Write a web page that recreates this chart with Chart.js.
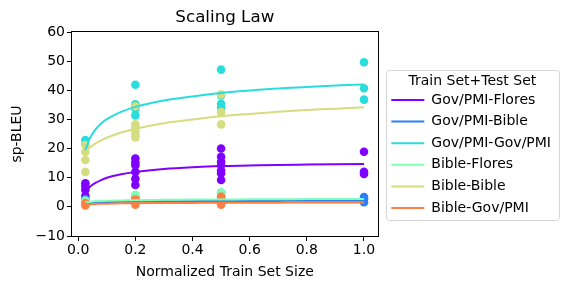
<!DOCTYPE html>
<html>
<head>
<meta charset="utf-8">
<script src="https://cdn.jsdelivr.net/npm/chart.js@4.4.0/dist/chart.umd.min.js"></script>
<style>
  body { margin: 0; background: #fff; }
  #caja { width: 570px; height: 290px; }
</style>
</head>
<body>
<div id="caja"><canvas id="grafico" width="570" height="290"></canvas></div>
<script>
// datos
const nombres = ['Gov/PMI-Flores', 'Gov/PMI-Bible', 'Gov/PMI-Gov/PMI', 'Bible-Flores', 'Bible-Bible', 'Bible-Gov/PMI'];
const colores = ['#8000ff', '#2a80f6', '#2adddd', '#80ffb4', '#d4dd80', '#ff8042'];

const tamanos = [0.025, 0.2, 0.5, 1.0];
const xTicks = [0.0, 0.2, 0.4, 0.6, 0.8, 1.0];
const yTicks = [-10, 0, 10, 20, 30, 40, 50, 60];

// puntos por tamaño (un sub-array por cada valor de tamanos)
const govFloresPuntos = [[8.1, 7.0, 5.8, 3.8], [16.6, 15.3, 14.3, 12.0, 9.6, 7.5], [20.0, 17.2, 15.5, 14.3, 12.5, 11.5, 9.2], [18.9, 12.0, 11.3]];
const govBiblePuntos = [[2.7, 1.8], [3.3, 2.0], [4.8, 3.5], [3.4, 2.6, 1.6]];
const govGovPuntos = [[22.9, 21.5], [41.9, 35.2, 33.7, 31.4], [47.1, 38.2, 35.4, 34.1], [49.6, 40.7, 36.8]];
const bibleFloresPuntos = [[2.2, 1.5], [4.1, 2.5], [4.9, 3.0], []];
const bibleBiblePuntos = [[21.2, 18.9, 16.1, 12.0], [34.5, 28.3, 27.2, 25.9, 24.6, 23.8], [38.6, 32.5, 28.3], []];
const bibleGovPuntos = [[1.3, 0.5], [2.5, 0.7], [3.5, 1.9, 0.7], []];

const ajusteX = [0.025, 0.04, 0.06, 0.08, 0.1, 0.15, 0.2, 0.3, 0.4, 0.5, 0.6, 0.7, 0.8, 0.9, 1.0];
const govFloresAjuste = [5.2, 6.8, 8.2, 9.2, 10.0, 11.2, 12.0, 13.0, 13.6, 14.0, 14.2, 14.4, 14.5, 14.6, 14.7];
const govBibleAjuste = [1.2, 1.35, 1.5, 1.6, 1.65, 1.75, 1.8, 1.9, 1.95, 2.0, 2.0, 2.05, 2.1, 2.1, 2.1];
const govGovAjuste = [19.5, 23.4, 26.5, 28.6, 30.1, 32.6, 34.3, 36.5, 37.9, 39.1, 39.9, 40.6, 41.1, 41.6, 42.0];
const bibleFloresAjuste = [1.5, 1.7, 1.9, 2.0, 2.1, 2.2, 2.3, 2.4, 2.5, 2.5, 2.6, 2.6, 2.7, 2.7, 2.7];
const bibleBibleAjuste = [18.8, 20.3, 21.7, 22.8, 23.7, 25.5, 26.8, 28.7, 30.0, 31.1, 31.9, 32.6, 33.2, 33.7, 34.2];
const bibleGovAjuste = [0.8, 0.9, 1.0, 1.05, 1.1, 1.2, 1.25, 1.3, 1.35, 1.4, 1.4, 1.45, 1.5, 1.5, 1.5];

const todosPuntos = [govFloresPuntos, govBiblePuntos, govGovPuntos, bibleFloresPuntos, bibleBiblePuntos, bibleGovPuntos];
const todosAjustes = [govFloresAjuste, govBibleAjuste, govGovAjuste, bibleFloresAjuste, bibleBibleAjuste, bibleGovAjuste];

const fuente = 'DejaVu Sans';
Chart.defaults.font.family = fuente;
Chart.defaults.color = '#000';

const conjuntos = [];
nombres.forEach((nombre, i) => {
    const puntos = [];
    todosPuntos[i].forEach((valores, j) => {
        valores.forEach(v => puntos.push({ x: tamanos[j], y: v }));
    });
    conjuntos.push({
        label: nombre + ' puntos',
        data: puntos,
        backgroundColor: colores[i],
        borderWidth: 0,
        pointRadius: 4.3,
        order: 100 - i
    });
});
nombres.forEach((nombre, i) => {
    conjuntos.push({
        type: 'line',
        label: nombre,
        data: ajusteX.map((x, k) => ({ x: x, y: todosAjustes[i][k] })),
        borderColor: colores[i],
        backgroundColor: colores[i],
        borderWidth: 2,
        pointRadius: 0,
        fill: false,
        cubicInterpolationMode: 'monotone',
        order: 50 - i
    });
});

// marco de los ejes y caja de la leyenda
const marcos = {
    id: 'marcos',
    afterDraw(chart) {
        const ctx = chart.ctx;
        const a = chart.chartArea;
        ctx.save();
        ctx.strokeStyle = '#000';
        ctx.lineWidth = 1;
        ctx.strokeRect(Math.round(a.left) - 0.5, Math.round(a.top) - 0.5, Math.round(a.right - a.left) + 1, Math.round(a.bottom - a.top) + 1);

        const cajas = chart.legend.legendHitBoxes;
        if (cajas && cajas.length) {
            const izq = cajas[0].left - 5;
            const der = Math.max(...cajas.map(c => c.left + c.width)) + 8;
            const arriba = cajas[0].top - 23;
            const ult = cajas[cajas.length - 1];
            const abajo = ult.top + ult.height + 5;
            ctx.strokeStyle = '#d6d6d6';
            ctx.beginPath();
            ctx.roundRect(Math.round(izq) + 0.5, Math.round(arriba) + 0.5, Math.round(der - izq), Math.round(abajo - arriba), 3);
            ctx.stroke();
        }
        ctx.restore();
    }
};

const contexto = document.getElementById('grafico').getContext('2d');
new Chart(contexto, {
    type: 'scatter',
    data: { datasets: conjuntos },
    plugins: [marcos],
    options: {
        responsive: false,
        animation: false,
        layout: { padding: { left: 0, right: 9, top: 7, bottom: 0 } },
        plugins: {
            title: {
                display: true,
                text: 'Scaling Law',
                fullSize: false,
                font: { size: 16.7, weight: 'normal', lineHeight: 1.0 },
                padding: { top: 2, bottom: 6.3 }
            },
            legend: {
                position: 'right',
                maxWidth: 200,
                title: {
                    display: true,
                    text: 'Train Set+Test Set',
                    font: { size: 14, lineHeight: 1.0 },
                    padding: { top: 0, bottom: -3 }
                },
                labels: {
                    usePointStyle: true,
                    pointStyle: 'line',
                    pointStyleWidth: 33,
                    font: { size: 14 },
                    padding: 7.6,
                    filter: item => !item.text.endsWith(' puntos'),
                    sort: (a, b) => a.datasetIndex - b.datasetIndex
                }
            },
            tooltip: { enabled: false }
        },
        scales: {
            x: {
                type: 'linear',
                min: -0.022,
                max: 1.048,
                afterBuildTicks: s => { s.ticks = xTicks.map(v => ({ value: v })); },
                ticks: { callback: v => v.toFixed(1), font: { size: 14 }, padding: 1 },
                grid: { display: true, drawOnChartArea: false, drawTicks: true, tickLength: 5, color: '#000' },
                border: { display: false },
                title: { display: true, text: 'Normalized Train Set Size', font: { size: 14 }, padding: { top: 4, bottom: 9.4 } }
            },
            y: {
                type: 'linear',
                min: -10,
                max: 60,
                afterBuildTicks: s => { s.ticks = yTicks.map(v => ({ value: v })); },
                ticks: { callback: v => (v < 0 ? '\u2212' + Math.abs(v) : String(v)), font: { size: 14 }, padding: 2 },
                grid: { display: true, drawOnChartArea: false, drawTicks: true, tickLength: 5, color: '#000' },
                border: { display: false },
                title: { display: true, text: 'sp-BLEU', font: { size: 14 }, padding: { top: 8.6, bottom: 8 } }
            },
            hueco: {
                type: 'linear',
                position: 'right',
                display: true,
                afterFit: s => { s.width = 6; },
                ticks: { display: false },
                grid: { display: false },
                border: { display: false }
            }
        }
    }
});
</script>
</body>
</html>
